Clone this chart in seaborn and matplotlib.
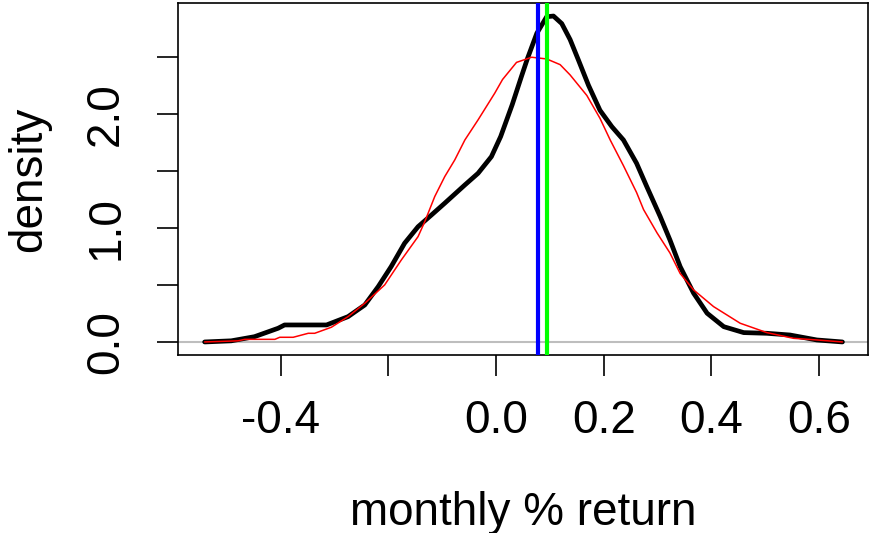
import numpy as np
import pandas as pd
import matplotlib
matplotlib.use("Agg")
import matplotlib.pyplot as plt
import seaborn as sns

# Black density curve (empirical)
emp_x = [-0.5415, -0.492, -0.449, -0.405, -0.393, -0.315, -0.275, -0.244, -0.219, -0.195,
         -0.170, -0.145, -0.120, -0.0954, -0.058, -0.0335, -0.0087, 0.0085, 0.030, 0.047,
         0.058, 0.0757, 0.094, 0.1066, 0.122, 0.1375, 0.153, 0.1716, 0.193, 0.215,
         0.2366, 0.261, 0.280, 0.305, 0.323, 0.342, 0.367, 0.392, 0.423, 0.460,
         0.503, 0.546, 0.596, 0.6435]
emp_y = [0.0, 0.01, 0.046, 0.12, 0.149, 0.149, 0.222, 0.324, 0.485, 0.66,
         0.865, 1.01, 1.113, 1.216, 1.376, 1.478, 1.624, 1.80, 2.08, 2.325,
         2.48, 2.705, 2.85, 2.856, 2.79, 2.65, 2.47, 2.25, 2.03, 1.887,
         1.77, 1.566, 1.361, 1.098, 0.894, 0.66, 0.427, 0.252, 0.134, 0.082,
         0.076, 0.061, 0.0175, 0.0]

# Red density curve (simulated / reference)
ref_x = [-0.5415, -0.4795, -0.467, -0.411, -0.402, -0.377, -0.349, -0.337, -0.306, -0.275,
         -0.244, -0.207, -0.176, -0.145, -0.1325, -0.114, -0.0954, -0.0768, -0.058, -0.0335,
         -0.0025, 0.012, 0.038, 0.066, 0.094, 0.119, 0.1375, 0.1686, 0.193, 0.212,
         0.2366, 0.261, 0.274, 0.299, 0.323, 0.342, 0.367, 0.404, 0.4535, 0.503,
         0.5526, 0.596, 0.6435]
ref_y = [0.0, 0.01, 0.023, 0.023, 0.041, 0.041, 0.076, 0.076, 0.129, 0.222,
         0.339, 0.5, 0.719, 0.923, 1.054, 1.274, 1.449, 1.595, 1.77, 1.946,
         2.18, 2.30, 2.45, 2.495, 2.48, 2.43, 2.34, 2.16, 1.96, 1.77,
         1.545, 1.31, 1.16, 0.956, 0.78, 0.60, 0.456, 0.31, 0.164, 0.082,
         0.032, 0.0175, 0.0]

blue_x = 0.0775
green_x = 0.0948

x_ticks = [-0.4, -0.2, 0.0, 0.2, 0.4, 0.6]
x_labels = ["-0.4", "", "0.0", "0.2", "0.4", "0.6"]
y_ticks = [0.0, 0.5, 1.0, 1.5, 2.0, 2.5]
y_labels = ["0.0", "", "1.0", "", "2.0", ""]

sns.set_theme(style="ticks")
plt.rcParams['font.family'] = ['Liberation Sans', 'DejaVu Sans']

fig = plt.figure(figsize=(8.71, 5.33), dpi=100)
ax = fig.add_axes([178/871, 1 - 355/533, (868-178)/871, (355-3)/533])

ax.axhline(0, color="#bebebe", lw=1.5, zorder=1)
emp = pd.DataFrame({"x": emp_x, "y": emp_y})
ref = pd.DataFrame({"x": ref_x, "y": ref_y})
sns.lineplot(data=emp, x="x", y="y", ax=ax, color="black", lw=3.4, sort=False, zorder=2)
sns.lineplot(data=ref, x="x", y="y", ax=ax, color="#ff0000", lw=1.1, sort=False, zorder=3)
ax.axvline(blue_x, color="#0000ff", lw=3, zorder=4)
ax.axvline(green_x, color="#00ff00", lw=3, zorder=4)

xmin, xmax = -0.5435, 0.6435
pad = 0.04 * (xmax - xmin)
ax.set_xlim(xmin - pad, xmax + pad)
ymax = 2.856
ax.set_ylim(-0.04 * ymax, ymax * 1.04)

ax.set_xticks(x_ticks)
ax.set_xticklabels(x_labels)
ax.set_yticks(y_ticks)
ax.set_yticklabels(y_labels, rotation=90, va="center")

for s in ax.spines.values():
    s.set_color("black")
    s.set_linewidth(1.2)

ax.tick_params(axis="both", length=15, width=1.2, color="black", labelsize=33,
               labelcolor="black", direction="out")
ax.tick_params(axis="x", pad=17)
ax.tick_params(axis="y", pad=21)

ax.set_xlabel("monthly % return", fontsize=33, labelpad=34, color="black")
ax.set_ylabel("density", fontsize=33, labelpad=24, color="black")

fig.savefig("out.png", dpi=100, facecolor="white")
